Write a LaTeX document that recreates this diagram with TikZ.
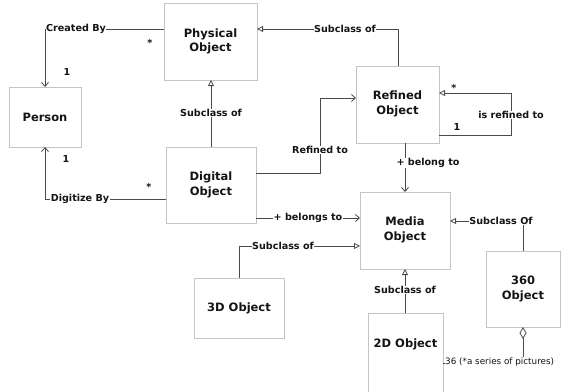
\documentclass[tikz,border=0pt]{standalone}
\usepackage{fontspec}
\setmainfont{DejaVu Sans}
\usetikzlibrary{arrows.meta}
\definecolor{boxline}{HTML}{C4C4C4}
\definecolor{wire}{HTML}{4A4A4A}
\definecolor{ink}{HTML}{141414}
\tikzset{
  cls/.style={draw=boxline, line width=0.9pt, fill=white},
  clstext/.style={font=\bfseries\fontsize{11.5}{14.5}\selectfont, text=ink, align=center, inner sep=0pt},
  conn/.style={draw=wire, line width=0.8pt},
  assoc/.style={conn, -{Straight Barb[length=4pt,width=7pt]}},
  gen/.style={conn, -{Triangle[open,length=6pt,width=6pt,fill=white]}},
  elabel/.style={font=\bfseries\fontsize{9.6}{11}\selectfont, text=ink, fill=white, inner sep=0.5pt},
  mult/.style={font=\bfseries\fontsize{9.6}{11}\selectfont, text=ink, inner sep=0pt},
}
\begin{document}
\begin{tikzpicture}[x=1pt,y=-1pt]
\useasboundingbox[fill=white] (0,0) rectangle (565,391);

% class boxes
\draw[cls] (164,3) rectangle (257,80);
\node[clstext] (phys) at (210.5,41.5) {Physical\\Object};
\coordinate (physL) at (164,29);
\coordinate (physR) at (257,29);
\coordinate (physB) at (211,80);

\draw[cls] (9,87) rectangle (81,147);
\node[clstext] (person) at (45,117) {Person};
\coordinate (persT) at (45,87);
\coordinate (persB) at (45,147);

\draw[cls] (166,147) rectangle (256,223);
\node[clstext] (dig) at (211,185) {Digital\\Object};
\coordinate (digT) at (211,147);
\coordinate (digL) at (166,199);
\coordinate (digR1) at (256,173);
\coordinate (digR2) at (256,218);

\draw[cls] (356,66) rectangle (439,143);
\node[clstext] (ref) at (397.5,104) {Refined\\Object};
\coordinate (refT) at (398,66);
\coordinate (refL) at (356,98);
\coordinate (refR1) at (439,93);
\coordinate (refR2) at (439,135);
\coordinate (refB) at (405,143);

\draw[cls] (360,192) rectangle (450,269);
\node[clstext] (media) at (405,230) {Media\\Object};
\coordinate (medT) at (405,192);
\coordinate (medL1) at (360,218);
\coordinate (medL2) at (360,246);
\coordinate (medR) at (450,221);
\coordinate (medB) at (405,269);

\draw[cls] (194,278) rectangle (284,338);
\node[clstext] (three) at (239,308) {3D Object};
\coordinate (thrT) at (239,278);

\draw[cls] (368,313) rectangle (443,393);
\node[clstext] (two) at (405.5,344) {2D Object};
\coordinate (twoT) at (405,313);
\coordinate (twoR) at (443,363);

\draw[cls] (486,251) rectangle (560,327);
\node[clstext] (pano) at (523,289) {360\\Object};
\coordinate (panT) at (523,251);
\coordinate (panB) at (523,327);

% associations and generalisations
\draw[assoc] (physL) -- (45,29) -- (persT);
\node[elabel] (lcreated) at (76,29) {Created By};
\node[mult] (m1) at (150,43) {*};
\node[mult] (m2) at (67,72) {1};

\draw[assoc] (digL) -- (45,199) -- (persB);
\node[elabel] (ldigit) at (80,199) {Digitize By};
\node[mult] (m3) at (149,187) {*};
\node[mult] (m4) at (66,159) {1};

\draw[gen] (digT) -- (physB);
\node[elabel] (lsub1) at (211,113) {Subclass of};

\draw[gen] (refT) -- (398,29) -- (physR);
\node[elabel] (lsub2) at (345,29) {Subclass of};

\draw[assoc] (digR1) -- (320,173) -- (320,98) -- (refL);
\node[elabel] (lrefto) at (320,150) {Refined to};

\draw[gen] (refR2) -- (511,135) -- (511,93) -- (refR1);
\node[elabel] (lisref) at (511,115) {is refined to};
\node[mult] (m5) at (454,88) {*};
\node[mult] (m6) at (457,127) {1};

\draw[assoc] (refB) -- (medT);
\node[elabel] (lbelong) at (428,163) {+ belong to};

\draw[assoc] (digR2) -- (medL1);
\node[elabel] (lbelongs) at (308,218) {+ belongs to};

\draw[gen] (thrT) -- (239,246) -- (medL2);
\node[elabel] (lsub3) at (283,246) {Subclass of};

\draw[gen] (twoT) -- (medB);
\node[elabel] (lsub4) at (405,290) {Subclass of};

\draw[gen] (panT) -- (523,221) -- (medR);
\node[elabel] (lsub5) at (501,221) {Subclass Of};

\draw[conn, {Diamond[open,length=12pt,width=7pt,fill=white]}-] (panB) -- (523,363) -- (twoR);
\node[elabel, font=\fontsize{8.8}{10}\selectfont, anchor=west] (lseries) at (444.5,362) {36 (*a series of pictures)};
\end{tikzpicture}
\end{document}
